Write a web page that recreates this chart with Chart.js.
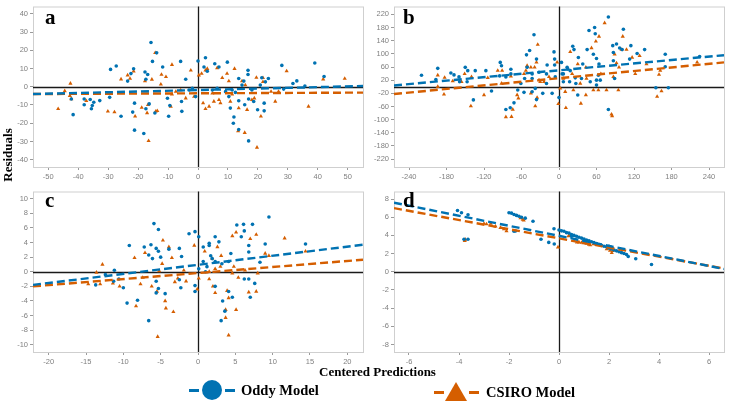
<!DOCTYPE html>
<html>
<head>
<meta charset="utf-8">
<script src="https://cdn.jsdelivr.net/npm/chart.js@4.4.1/dist/chart.umd.min.js"></script>
<style>
  body { margin: 0; background: #fff; }
  #page { position: relative; width: 730px; height: 402px; overflow: hidden; background: #fff; }
  canvas { position: absolute; }
  .lbl { position: absolute; font-family: "Liberation Serif", serif; font-weight: bold; color: #000; white-space: nowrap; }
  .panel { font-size: 21px; line-height: 21px; }
  .dash { position: absolute; height: 3px; }
</style>
</head>
<body>
<div id="page">
  <canvas id="chartA" width="367" height="185" style="left:0;top:0"></canvas>
  <canvas id="chartB" width="364" height="185" style="left:366px;top:0"></canvas>
  <canvas id="chartC" width="367" height="185" style="left:0;top:185px"></canvas>
  <canvas id="chartD" width="364" height="185" style="left:366px;top:185px"></canvas>

  <div class="lbl panel" style="left:45px;top:7px">a</div>
  <div class="lbl panel" style="left:403px;top:7px">b</div>
  <div class="lbl panel" style="left:45px;top:190px">c</div>
  <div class="lbl panel" style="left:403px;top:190px">d</div>

  <div class="lbl" style="left:-20px;top:148px;width:56px;font-size:13px;line-height:14px;text-align:center;transform:rotate(-90deg)">Residuals</div>
  <div class="lbl" style="left:0;width:755px;top:364px;font-size:13px;line-height:15px;text-align:center">Centered Predictions</div>

  <!-- legend -->
  <div class="dash" style="left:189px;top:389px;width:10px;background:#0072B2"></div>
  <div style="position:absolute;left:202px;top:380px;width:20px;height:20px;border-radius:50%;background:#0072B2"></div>
  <div class="dash" style="left:225px;top:389px;width:10px;background:#0072B2"></div>
  <div class="lbl" style="left:241px;top:382px;font-size:14.5px;line-height:16px">Oddy Model</div>

  <div class="dash" style="left:434px;top:391px;width:10px;background:#D55E00"></div>
  <div style="position:absolute;left:445px;top:382px;width:0;height:0;border-left:11px solid transparent;border-right:11px solid transparent;border-bottom:19px solid #D55E00"></div>
  <div class="dash" style="left:469px;top:391px;width:10px;background:#D55E00"></div>
  <div class="lbl" style="left:486px;top:384px;font-size:14.5px;line-height:16px">CSIRO Model</div>
</div>

<script>
const ODDY_COLOR = '#0072B2';
const CSIRO_COLOR = '#D55E00';

// ---- panel a ----
const aXTicks = [-50, -40, -30, -20, -10, 0, 10, 20, 30, 40, 50];
const aYTicks = [-40, -30, -20, -10, 0, 10, 20, 30, 40];
const aOddy = [[-15.7,24.3],[-13.8,18.6],[-15.2,13.9],[-11.8,10.8],[-27.3,11.4],[-29.2,9.5],[-21.5,9.9],[-22.4,7.2],
  [-23.5,3.1],[-17.7,8.1],[-16.8,6.7],[-17.4,4.1],[-5.8,13.9],[-4.1,4.1],[0,14.1],[2.5,15.9],[2,10.8],[3.1,8.5],
  [5.6,12.6],[7,10.8],[9.8,13.5],[13.6,4.5],[16.7,9],[16.7,6.7],[15.3,3.1],[21.3,4.9],[23.5,4.5],[28,11.7],[39,13],
  [42.1,5.6],[33,3.2],[31.7,1.8],[28.6,-1.3],[-29.5,-5.8],[-25.7,-16.2],[-32.8,-7.6],[-36,-7],[-38,-6.7],[-38,-9.9],
  [-34.8,-8.5],[-35.3,-10.3],[-35.6,-12.1],[-41.7,-15.3],[-42.3,-6.7],[-21.2,-9],[-21.2,-23.8],[-18.1,-25.6],
  [-21.8,-13.9],[-16.3,-9.4],[-17.4,-12.1],[-14.4,-14.4],[-9.8,-16.2],[-9.4,-10.3],[-10.2,-6.3],[-5.5,-8.1],
  [-5.4,-13.5],[-0.8,-5.4],[-3,-1.8],[-1.9,-0.9],[10.8,-11.7],[12,-16.6],[11.8,-20],[13.6,-23.4],[16.9,-29.7],
  [19.9,-12.6],[22.1,-9],[22.1,-13.2],[16.9,-6.7],[18.6,-8.1],[13.6,-7.7],[15.6,-9.9],[10.3,-5.4],[12.5,-3.1],
  [14.7,0.9],[18,-1.8],[20.8,0.9],[22.5,2.7],[4.8,-1.8],[6.4,-0.9],[9.2,-2.7],[11.4,-1.8],[35.7,0.4]];
const aCsiro = [[-42.6,1.8],[-46.7,-12.1],[-44.5,-2.3],[-42.8,-4.9],[-42.3,-6.7],[-37.3,-7.7],[-30.1,-13.5],
  [-27.9,-13.9],[-25.7,4.1],[-23.5,6.3],[-21.5,8.5],[-22.7,4.5],[-21,-16.2],[-18.8,-11.4],[-17,-14.4],[-16.5,-29.7],
  [-16.7,-9.9],[-17.7,3.1],[-15.4,4],[-14.3,18.6],[-14.1,-13.5],[-13.6,-13.2],[-12.2,6.7],[-10.7,5.4],[-12.4,1.3],
  [-8.7,12.1],[-9.1,-10.8],[-8.7,-4.1],[-7.4,-2.7],[-5.8,-1.8],[-2.4,9],[0.3,6.3],[1.2,7.2],[2.5,9],[3.1,9.9],
  [1.7,-9],[2.5,-12.1],[3.7,-10.8],[5.3,-8.1],[7,-7.2],[7.5,-9],[4.8,-3.6],[6.4,10.3],[8.1,4.9],[9.7,7.2],
  [10.3,3.1],[12.2,9.9],[13.6,-11.7],[13.4,-24.3],[15.6,-25.2],[16.4,-12.6],[18,-7.2],[18.8,-6.3],[14.7,3.1],
  [15.8,0.9],[19.5,5],[21.7,4.9],[21.7,2.7],[19.7,-33.3],[21,-16.2],[25.8,-8.1],[24.4,-2.7],[26.9,-2.7],[29.6,8.6],
  [36.9,-10.8],[41.8,4.1],[49,4.5],[11.4,-4.1],[10.8,-8.1],[-4.1,-6.3],[-1.3,-5.4]];
const aOddyFit = [[-55.1,-4.0],[55.1,0.4]];
const aCsiroFit = [[-55.1,-4.0],[55.1,-3.2]];

// ---- panel b ----
const bXTicks = [-240, -180, -120, -60, 0, 60, 120, 180, 240];
const bYTicks = [-220, -180, -140, -100, -60, -20, 20, 60, 100, 140, 180, 220];
const bOddy = [[-220,35],[-194,56],[-197,22],[-173,42],[-168,36],[-150,59],[-146,49],[-134,49],[-147,15],[-137,-40],
  [-117,49],[-108,-13],[-94,74],[-92,64],[-95,33],[-85,-69],[-78,-64],[-72,-49],[-77,53],[-66,-10],[-56,-17],
  [-52,97],[-47,110],[-40,158],[-51,59],[-43,25],[-38,-5],[-36,-39],[-36,84],[-43,-15],[-26,-20],[-20,10],[-19,66],
  [-8,106],[-7,84],[-7,66],[-6,30],[-11,-20],[0,-33],[4,74],[7,15],[13,59],[18,49],[22,123],[24,113],[27,10],
  [30,-25],[31,89],[38,69],[45,113],[48,171],[57,180],[58,161],[55,99],[60,86],[64,69],[60,20],[63,35],[79,212],
  [79,-69],[86,125],[92,130],[97,118],[101,113],[103,175],[87,104],[87,79],[89,25],[115,125],[125,101],[137,113],
  [113,84],[155,-3],[170,99],[170,61],[175,-3],[26,27],[36,25],[17,15],[50,15],[60,5],[66,20],[7,39],[14,54],
  [-20,39],[5,39],[-61,10],[-55,25],[-32,44],[-43,39],[-77,39],[-85,30],[-160,30],[-159,15],[225,92]];
const bCsiro = [[-194,35],[-194,0],[-183,28],[-184,-23],[-170,17],[-156,15],[-151,39],[-140,30],[-141,-59],
  [-120,-25],[-114,27],[-98,49],[-91,49],[-92,10],[-85,-92],[-76,-91],[-74,-69],[-77,32],[-67,-25],[-65,-35],
  [-53,49],[-51,64],[-45,59],[-45,-20],[-39,59],[-38,-59],[-35,-33],[-34,128],[-36,74],[-32,20],[-30,15],[-16,30],
  [-1,-52],[2,-5],[-3,74],[7,25],[10,-15],[11,-64],[18,106],[21,39],[23,-10],[30,69],[35,-51],[43,59],[43,-25],
  [52,118],[55,-10],[59,138],[64,153],[63,-10],[67,39],[73,194],[76,-10],[84,-84],[85,-89],[89,99],[92,72],
  [96,59],[100,113],[102,153],[108,113],[117,89],[122,39],[129,94],[140,69],[157,-30],[162,49],[164,-13],[160,37],
  [221,74],[95,-10],[87,30],[34,10],[44,25],[-24,15],[-56,39]];
const bOddyFit = [[-264,4],[264,96]];
const bCsiroFit = [[-264,-22],[264,74]];

// ---- panel c ----
const cXTicks = [-20, -15, -10, -5, 0, 5, 10, 15, 20];
const cYTicks = [-10, -8, -6, -4, -2, 0, 2, 4, 6, 8, 10];
const cOddy = [[-5.9,6.6],[-5.3,5.8],[-9.2,3.6],[-7.2,3.4],[-6.3,3.7],[-5.6,3.2],[-5.3,2.8],[-5,2],[-6.6,2.3],
  [-6.1,1.8],[-3.9,3.1],[-2.5,3.2],[-2.2,2.1],[-1.2,5.2],[-0.4,5.5],[0.1,4.8],[-2.5,-1.1],[-2.3,-2.2],[-4.4,-3],
  [-5.3,-2.3],[-5.6,-2.9],[-5.6,-1.3],[-6.6,-6.7],[-8.1,-3.9],[-9.5,-4.3],[-10,-2.2],[-10.6,-1],[-11.2,0.2],
  [-11.3,-1.3],[-12.4,-0.4],[-13.7,-1.8],[-0.4,-1.9],[-0.4,-2.7],[0.7,3.4],[1.5,3.9],[1.5,3.6],[2.3,4.8],[2.8,4.1],
  [1.7,2.2],[1.9,1.8],[2.3,1.4],[3.2,1.1],[4.1,1.4],[4.4,2.5],[5.2,6.4],[6.1,6.5],[7.3,6.5],[6.2,5.6],[5.8,4.8],
  [6.8,3.6],[6.8,2.7],[8.3,1.3],[9.5,7.5],[9,3.8],[14.4,3.8],[6.2,-1],[6.8,-1],[7,-3.5],[7.6,-1.6],[3.3,-4],
  [3.1,-6.7],[3.6,-5.4],[4.6,-3.5],[4.1,-2.7],[2.3,-2],[1,0],[0.1,0.4],[0.7,1.4],[1.2,0.7]];
const cCsiro = [[-12.8,1],[-13.6,-0.1],[-14.7,-1.7],[-13.1,-1.7],[-11.4,-1.6],[-10.5,-2],[-8.3,-4.7],[-8.5,1.9],
  [-7.1,2.6],[-7.7,-1.7],[-7.4,-0.8],[-6.2,-2],[-5.5,-2.7],[-4.7,4.3],[-4.8,1.1],[-4.4,-4],[-4.3,-5],[-3.3,-5.5],
  [-5.4,-8.9],[-5.2,0.1],[-3.9,3.4],[-3.5,1.9],[-3.1,-1.4],[-2.7,-0.9],[-0.5,3.6],[-0.1,-2.4],[0.1,-0.9],[0.9,2.8],
  [1.5,-1],[2,-2],[2.6,3.4],[3.1,2.2],[2.3,-2.9],[3.7,-6.3],[4.1,-8.7],[3.7,-5.2],[3.9,-2.6],[4.1,-3.6],[4.6,4.9],
  [5.1,5.4],[5.1,-5.2],[5.4,-0.8],[4.8,0.7],[7,4.5],[7.8,5.1],[6.8,-2.8],[7.8,-2.7],[8,-0.2],[9,2.5],[9.5,2.2],
  [11.6,4.6],[14.4,2.8],[1.5,0],[2.3,0.4],[3,0.7],[1.9,1.8],[4.6,-0.2],[6.3,0.2],[-1.9,0.2],[-1.6,-1.3]];
const cOddyFit = [[-22.1,-1.8],[22.1,3.7]];
const cCsiroFit = [[-22.1,-2.0],[22.1,1.65]];

// ---- panel d ----
const dXTicks = [-6, -4, -2, 0, 2, 4, 6];
const dYTicks = [-8, -6, -4, -2, 0, 2, 4, 6, 8];
const dOddy = [[-4.06,6.74],[-3.9,6.5],[-3.64,6.27],[-3.8,3.58],[-3.64,3.58],[-2.0,6.5],[-1.9,6.45],[-1.8,6.3],
  [-1.7,6.2],[-1.6,6.1],[-1.5,6.0],[-1.35,5.9],[-1.04,5.56],[-1.74,4.48],[-1.8,4.45],[-0.72,3.58],[-0.41,3.23],
  [-0.19,3.05],[-0.2,4.73],[0.0,4.6],[0.1,4.5],[0.2,4.45],[0.3,4.3],[0.4,4.25],[0.5,4.1],[0.6,4.0],[0.7,3.9],
  [0.8,3.8],[0.9,3.7],[1.0,3.6],[1.1,3.5],[1.2,3.4],[1.3,3.3],[1.4,3.2],[1.5,3.1],[1.6,3.0],[1.7,2.9],[1.8,2.8],
  [1.9,2.75],[2.0,2.6],[2.1,2.5],[2.2,2.4],[2.3,2.3],[2.4,2.2],[2.5,2.1],[2.6,2.0],[2.7,1.9],[2.77,1.68],
  [2.0,2.8],[2.05,2.75],[0.5,3.9],[1.0,3.4],[3.07,1.43],[3.7,0.79]];
const dCsiro = [[-3.77,3.4],[-3.75,3.55],[-3.0,5.3],[-2.9,5.25],[-2.73,5.3],[-2.54,5.0],[-2.34,4.84],[-2.2,4.7],
  [-2.1,4.48],[-1.54,5.9],[-1.45,5.75],[-1.41,5.66],[-0.04,2.7],[0.38,3.94],[0.45,4.0],[0.72,3.23],[0.8,3.25],
  [0.9,3.2],[0.98,3.15],[1.1,3.1],[1.2,3.0],[1.25,2.94],[1.38,3.05],[1.91,2.5],[2.04,2.33],[2.11,2.08],[2.15,2.3]];
const dOddyFit = [[-6.6,7.6],[6.6,0.3]];
const dCsiroFit = [[-6.6,7.0],[6.6,0.35]];

/**
 * Convert [x, y] pairs to chart points
 */
function toPoints(pairs) {
    return pairs.map(p => ({ x: p[0], y: p[1] }));
}

// zero lines + panel border
const framePlugin = {
    id: 'frame',
    beforeDatasetsDraw(chart) {
        const ctx = chart.ctx;
        const area = chart.chartArea;
        const x0 = Math.round(chart.scales.x.getPixelForValue(0)) + 0.5;
        const y0 = Math.round(chart.scales.y.getPixelForValue(0)) + 0.5;
        ctx.save();
        ctx.strokeStyle = '#cfcfcf';
        ctx.lineWidth = 1;
        ctx.strokeRect(area.left + 0.5, area.top + 0.5, area.right - area.left, area.bottom - area.top);
        ctx.strokeStyle = '#1a1a1a';
        ctx.lineWidth = 1.3;
        ctx.beginPath();
        ctx.moveTo(x0, area.top);
        ctx.lineTo(x0, area.bottom);
        ctx.moveTo(area.left, y0);
        ctx.lineTo(area.right, y0);
        ctx.stroke();
        ctx.restore();
    }
};

/**
 * Build one residual panel
 */
function makePanel(id, oddy, csiro, oddyFit, csiroFit, xRange, yRange, xTicks, yTicks, yWidth) {
    const tickStyle = { color: '#808080', font: { family: 'Liberation Sans', size: 7.5 }, padding: 2 };
    const gridStyle = { display: true, drawOnChartArea: false, drawTicks: true, tickLength: 3, color: '#9a9a9a' };

    new Chart(document.getElementById(id), {
        type: 'scatter',
        data: {
            datasets: [
                {
                    type: 'line', data: toPoints(oddyFit), borderColor: ODDY_COLOR, borderWidth: 2.4,
                    borderDash: [8, 4], pointRadius: 0, order: 0
                },
                {
                    type: 'line', data: toPoints(csiroFit), borderColor: CSIRO_COLOR, borderWidth: 2.4,
                    borderDash: [8, 4], pointRadius: 0, order: 0
                },
                {
                    data: toPoints(oddy), pointStyle: 'circle', pointRadius: 1.8, borderWidth: 0,
                    backgroundColor: ODDY_COLOR, order: 1
                },
                {
                    data: toPoints(csiro), pointStyle: 'triangle', pointRadius: 2.4, borderWidth: 0,
                    backgroundColor: CSIRO_COLOR, order: 1
                }
            ]
        },
        options: {
            responsive: false,
            animation: false,
            devicePixelRatio: 1,
            layout: { padding: { top: 3, right: 366 - yWidth - 333 + 1, left: 0, bottom: 0 } },
            plugins: { legend: { display: false }, tooltip: { enabled: false } },
            scales: {
                x: {
                    type: 'linear', min: -xRange, max: xRange,
                    afterBuildTicks: s => { s.ticks = xTicks.map(v => ({ value: v })); },
                    afterFit: s => { s.height = 18; },
                    ticks: Object.assign({ maxRotation: 0, autoSkip: false }, tickStyle),
                    grid: gridStyle,
                    border: { display: false }
                },
                y: {
                    type: 'linear', min: -yRange, max: yRange,
                    afterBuildTicks: s => { s.ticks = yTicks.map(v => ({ value: v })); },
                    afterFit: s => { s.width = yWidth; },
                    ticks: Object.assign({ autoSkip: false }, tickStyle),
                    grid: gridStyle,
                    border: { display: false }
                }
            }
        },
        plugins: [framePlugin]
    });
}

makePanel('chartA', aOddy, aCsiro, aOddyFit, aCsiroFit, 55.1, 44, aXTicks, aYTicks, 33);
makePanel('chartB', bOddy, bCsiro, bOddyFit, bCsiroFit, 264, 244, bXTicks, bYTicks, 28);
makePanel('chartC', cOddy, cCsiro, cOddyFit, cCsiroFit, 22.1, 11, cXTicks, cYTicks, 33);
makePanel('chartD', dOddy, dCsiro, dOddyFit, dCsiroFit, 6.6, 8.83, dXTicks, dYTicks, 28);
</script>
</body>
</html>
